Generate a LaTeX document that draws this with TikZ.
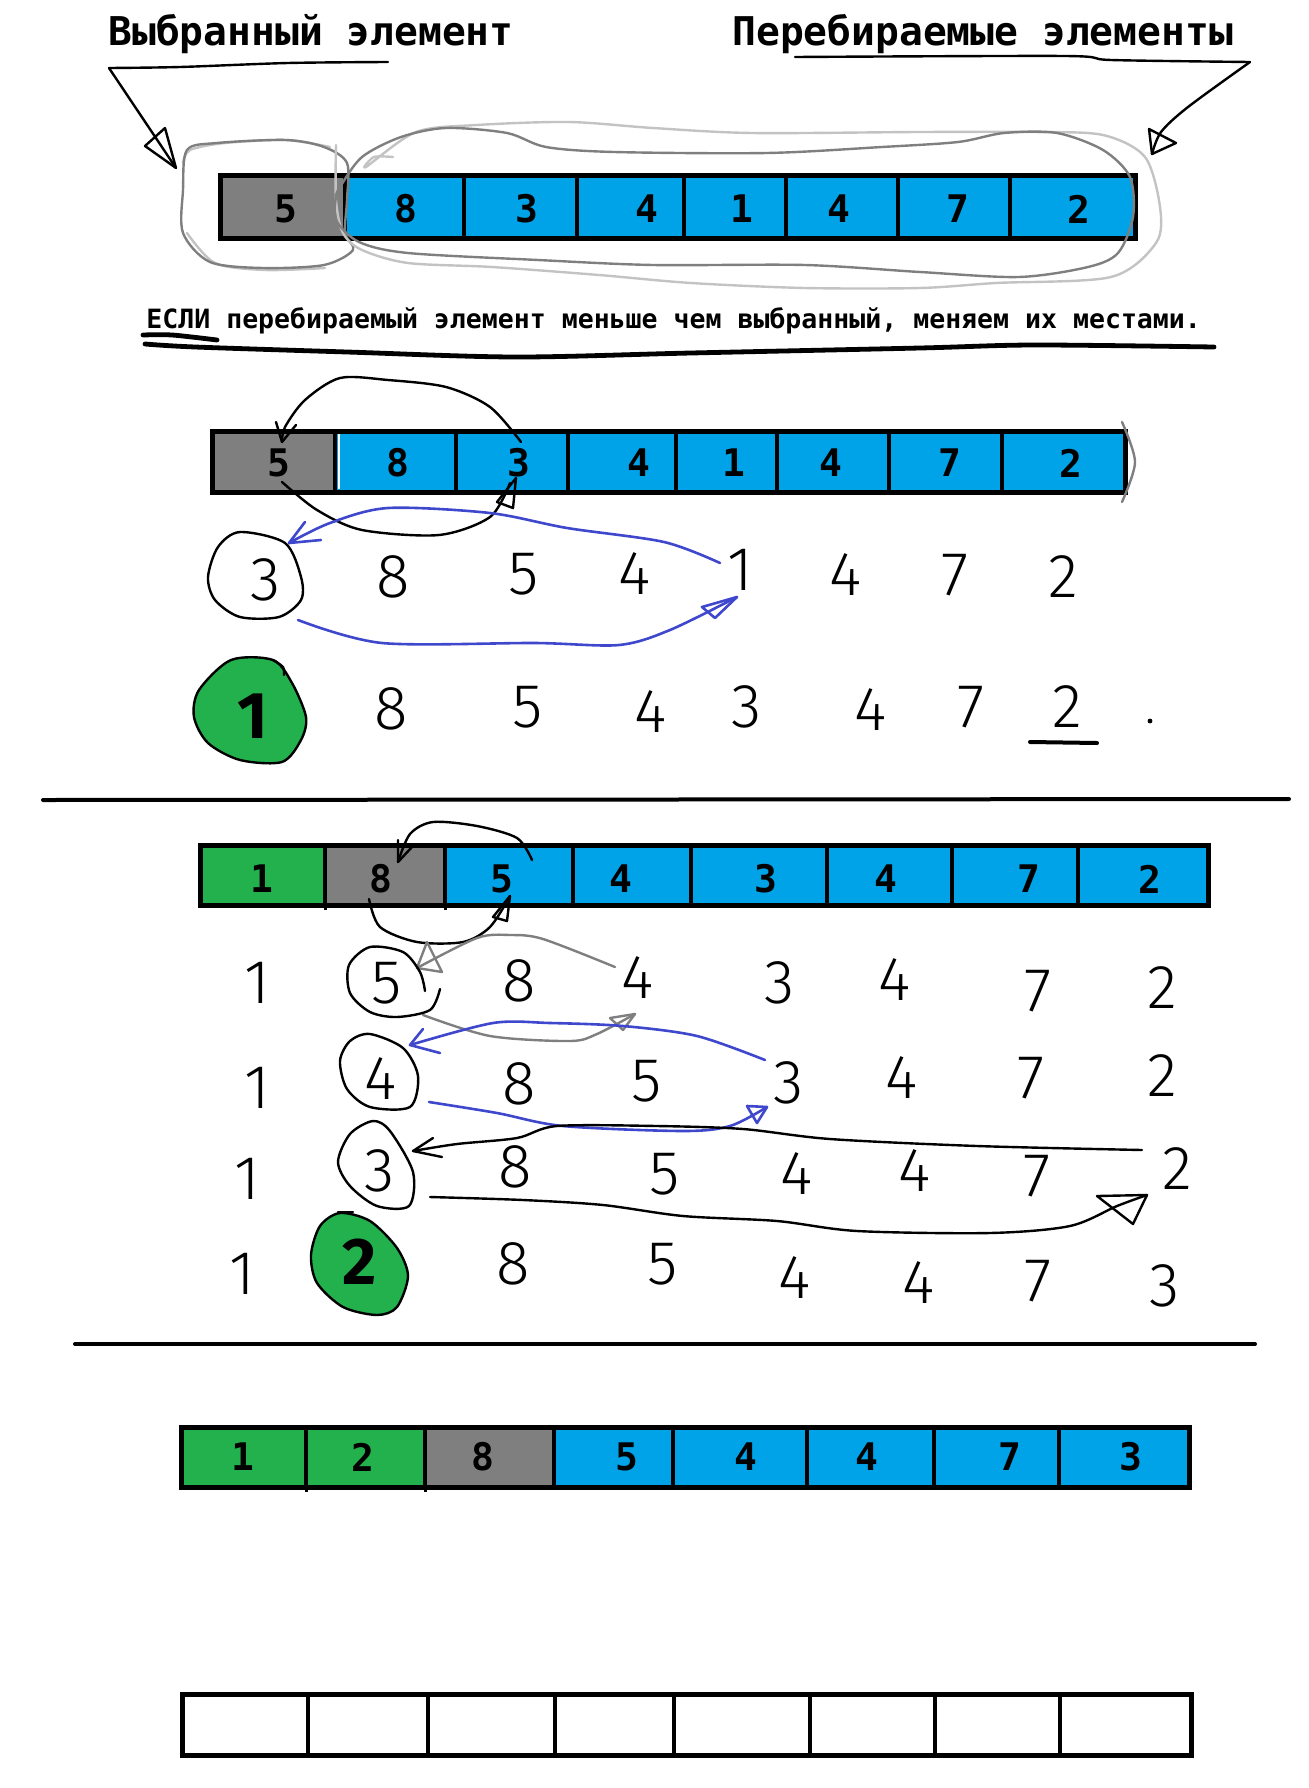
\documentclass[tikz,border=0pt]{standalone}
\usepackage{fontspec}
\setmainfont{DejaVu Sans Mono}
\newfontfamily\handfont{Fira Sans Light}
\newfontfamily\blobfont{Fira Sans}
\definecolor{cellgrey}{HTML}{7F7F7F}
\definecolor{cellblue}{HTML}{00A2E8}
\definecolor{cellgreen}{HTML}{22B14C}
\definecolor{penblue}{HTML}{3F48CC}
\definecolor{pale}{HTML}{C3C3C3}
\tikzset{
greycell/.style={draw,line width=2pt,fill=cellgrey},
bluecell/.style={draw,line width=2pt,fill=cellblue},
greencell/.style={draw,line width=2pt,fill=cellgreen},
blankcell/.style={draw,line width=2pt,fill=white},
rowframe/.style={draw,line width=2.5pt},
cellnum/.style={inner sep=0pt,font=\bfseries\fontsize{19}{19}\selectfont},
handnum/.style={inner sep=0pt,font=\handfont\fontsize{31}{31}\selectfont},
blobnum/.style={inner sep=0pt,font=\blobfont\bfseries\fontsize{33}{33}\selectfont},
pen/.style={line width=1.2pt,line join=round,line cap=round},
bluepen/.style={pen,color=penblue,line width=1.3pt},
greypen/.style={pen,color=cellgrey},
palepen/.style={pen,color=pale},
}
\begin{document}
\begin{tikzpicture}[x=.5pt,y=-.5pt]
\useasboundingbox (0,0) rectangle (1308,1788);
\node[anchor=west,inner sep=0pt,font=\bfseries\fontsize{19.8}{19.8}\selectfont] (chosen) at (108,34) {Выбранный элемент};
\node[anchor=west,inner sep=0pt,font=\bfseries\fontsize{19.8}{19.8}\selectfont] (others) at (732,34) {Перебираемые элементы};
\node[anchor=west,inner sep=0pt,font=\bfseries\fontsize{13.27}{13.27}\selectfont] (rule) at (146,321) {ЕСЛИ перебираемый элемент меньше чем выбранный, меняем их местами.};
\draw[greycell] (220,175) rectangle (345,238);
\draw[bluecell] (345,175) rectangle (464,238);
\draw[bluecell] (464,175) rectangle (577,238);
\draw[bluecell] (577,175) rectangle (684,238);
\draw[bluecell] (684,175) rectangle (786,238);
\draw[bluecell] (786,175) rectangle (898,238);
\draw[bluecell] (898,175) rectangle (1010,238);
\draw[bluecell] (1010,175) rectangle (1135,238);
\draw[rowframe] (220,175) rectangle (1135,238);
\node[cellnum] (a1) at (286,209) {5};
\node[cellnum] (a2) at (406,209) {8};
\node[cellnum] (a3) at (527,209) {3};
\node[cellnum] (a4) at (647,209) {4};
\node[cellnum] (a5) at (742,209) {1};
\node[cellnum] (a6) at (839,209) {4};
\node[cellnum] (a7) at (958,209) {7};
\node[cellnum] (a8) at (1079,209) {2};
\draw[pen] plot[smooth] coordinates {(388,62) (288,63) (180,67) (109,68)};
\draw[pen] (109,68) -- (176,168);
\draw[pen] (176,168) -- (165,128) -- (145,146) -- cycle;
\draw[pen] plot[smooth] coordinates {(795,57) (1065,56) (1111,60) (1250,62)};
\draw[pen] plot[smooth] coordinates {(1250,62) (1188,107) (1161,132) (1152,154)};
\draw[pen] (1152,154) -- (1149,129) -- (1176,143) -- cycle;
\draw[palepen] plot[smooth] coordinates {(183,163) (190,150) (225,143) (286,140) (330,147)};
\draw[palepen] plot[smooth] coordinates {(187,233) (215,263) (265,270) (325,268)};
\draw[greypen] plot[smooth cycle] coordinates {(187,150) (217,143) (286,140) (324,147) (347,163) (347,200) (345,233) (353,250) (324,265) (263,268) (210,262) (183,233) (183,190)};
\draw[palepen] plot[smooth] coordinates {(393,157) (374,157) (366,167) (416,132) (477,125) (569,122) (653,128) (752,133) (920,132) (1034,132) (1103,135) (1145,157) (1160,207) (1156,243) (1111,277) (996,283) (920,288) (805,288) (691,283) (599,275) (492,267) (408,263) (362,250) (343,233) (336,200) (336,145)};
\draw[greypen] plot[smooth cycle] coordinates {(340,187) (362,157) (401,137) (446,128) (507,133) (546,147) (614,152) (767,153) (882,147) (958,142) (1004,133) (1057,133) (1103,150) (1130,177) (1133,217) (1118,253) (1088,267) (1019,277) (920,272) (805,265) (653,265) (538,260) (408,253) (359,242) (336,220) (336,197)};
\draw[pen,line width=2.4pt] plot[smooth] coordinates {(143,335) (172,335) (217,340)};
\draw[pen,line width=2.4pt] plot[smooth] coordinates {(145,344) (195,347) (347,352) (515,357) (691,353) (920,348) (1034,345) (1214,347)};
\draw[greycell] (212,431) rectangle (335,492);
\draw[bluecell] (335,431) rectangle (456,492);
\draw[bluecell] (456,431) rectangle (568,492);
\draw[bluecell] (568,431) rectangle (676,492);
\draw[bluecell] (676,431) rectangle (777,492);
\draw[bluecell] (777,431) rectangle (889,492);
\draw[bluecell] (889,431) rectangle (1002,492);
\draw[bluecell] (1002,431) rectangle (1125,492);
\draw[rowframe] (212,431) rectangle (1125,492);
\draw[white,line width=1pt] (339,434) -- (339,489);
\node[cellnum] (b1) at (279,463) {5};
\node[cellnum] (b2) at (398,463) {8};
\node[cellnum] (b3) at (519,463) {3};
\node[cellnum] (b4) at (639,463) {4};
\node[cellnum] (b5) at (734,463) {1};
\node[cellnum] (b6) at (831,463) {4};
\node[cellnum] (b7) at (950,463) {7};
\node[cellnum] (b8) at (1071,463) {2};
\draw[greypen] plot[smooth] coordinates {(1122,422) (1135,462) (1122,502)};
\draw[pen] plot[smooth] coordinates {(521,442) (490,407) (446,387) (388,380) (340,378) (305,400) (285,427) (282,442)};
\draw[pen] (282,442) -- (276,422) (282,442) -- (296,425);
\draw[pen] plot[smooth] coordinates {(282,482) (317,510) (362,530) (439,535) (490,517) (510,483)};
\draw[pen] (516,478) -- (497,502) -- (513,508) -- cycle;
\draw[bluepen] plot[smooth] coordinates {(720,563) (664,542) (567,528) (490,513) (388,508) (330,523) (289,543)};
\draw[bluepen] (305,522) -- (289,543) -- (321,540);
\draw[bluepen] plot[smooth] coordinates {(298,620) (382,643) (535,643) (619,645) (670,630) (737,597)};
\draw[bluepen] (737,597) -- (702,607) -- (715,618) -- cycle;
\draw[pen] plot[smooth cycle] coordinates {(240,532) (285,543) (301,577) (301,600) (279,617) (240,617) (215,600) (208,577) (218,547)};
\node[handnum] (c1) at (266,580) {3};
\node[handnum] (c2) at (393,577) {8};
\node[handnum] (c3) at (524,574) {5};
\node[handnum] (c4) at (635,574) {4};
\node[handnum] (c5) at (740,570) {1};
\node[handnum] (c6) at (846,575) {4};
\node[handnum] (c7) at (955,575) {7};
\node[handnum] (c8) at (1063,577) {2};
\draw[pen,fill=cellgreen] plot[smooth cycle] coordinates {(231,660) (273,660) (292,683) (306,717) (301,740) (282,762) (240,760) (208,743) (194,717) (199,690)};
\draw[pen] plot[smooth] coordinates {(273,660) (283,667) (284,675)};
\node[blobnum] (d1) at (253,716) {1};
\node[handnum] (d2) at (391,709) {8};
\node[handnum] (d3) at (528,707) {5};
\node[handnum] (d4) at (651,712) {4};
\node[handnum] (d5) at (747,707) {3};
\node[handnum] (d6) at (871,710) {4};
\node[handnum] (d7) at (971,707) {7};
\node[handnum] (d8) at (1067,707) {2};
\draw[pen,line width=2pt] (1030,742) -- (1097,743);
\draw[fill] (1150,721) circle[radius=2];
\draw[pen,line width=2pt] (43,800) -- (1289,799);
\draw[greencell] (200,845) rectangle (325,905);
\draw[greycell] (325,845) rectangle (445,905);
\draw[bluecell] (445,845) rectangle (573,905);
\draw[bluecell] (573,845) rectangle (691,905);
\draw[bluecell] (691,845) rectangle (827,905);
\draw[bluecell] (827,845) rectangle (952,905);
\draw[bluecell] (952,845) rectangle (1078,905);
\draw[bluecell] (1078,845) rectangle (1208,905);
\draw[rowframe] (200,845) rectangle (1208,905);
\draw[line width=1.5pt] (325,905) -- (325,910);
\draw[line width=1.5pt] (445,905) -- (445,910);
\node[cellnum] (e1) at (262,879) {1};
\node[cellnum] (e2) at (381,879) {8};
\node[cellnum] (e3) at (502,879) {5};
\node[cellnum] (e4) at (621,879) {4};
\node[cellnum] (e5) at (766,879) {3};
\node[cellnum] (e6) at (886,879) {4};
\node[cellnum] (e7) at (1029,879) {7};
\node[cellnum] (e8) at (1150,879) {2};
\draw[pen] plot[smooth] coordinates {(532,860) (517,838) (477,826) (433,822) (410,834) (398,862)};
\draw[pen] (398,862) -- (398,840) (398,862) -- (412,847);
\draw[pen] plot[smooth] coordinates {(369,899) (380,927) (417,942) (463,942) (490,927) (510,896)};
\draw[pen] (510,896) -- (493,917) -- (507,921) -- cycle;
\draw[greypen] plot[smooth] coordinates {(615,967) (543,939) (510,935) (477,938) (417,968)};
\draw[greypen] (417,968) -- (427,942) -- (442,972) -- cycle;
\draw[greypen] plot[smooth] coordinates {(423,1015) (490,1036) (570,1041) (597,1034) (635,1014)};
\draw[greypen] (635,1014) -- (610,1018) -- (623,1030) -- cycle;
\draw[bluepen] plot[smooth] coordinates {(765,1060) (697,1036) (623,1026) (550,1023) (493,1023) (410,1045)};
\draw[bluepen] (423,1029) -- (410,1045) -- (440,1053);
\draw[bluepen] plot[smooth] coordinates {(429,1102) (497,1113) (563,1126) (683,1131) (730,1126) (767,1107)};
\draw[bluepen] (767,1107) -- (747,1106) -- (757,1123) -- cycle;
\draw[pen] plot[smooth] coordinates {(425,991) (420,972) (403,952) (370,947) (349,965) (350,993) (370,1012) (397,1017) (430,1010) (440,989)};
\node[handnum] (f1) at (257,983) {1};
\node[handnum] (f2) at (387,983) {5};
\node[handnum] (f3) at (519,981) {8};
\node[handnum] (f4) at (638,978) {4};
\node[handnum] (f5) at (780,983) {3};
\node[handnum] (f6) at (895,980) {4};
\node[handnum] (f7) at (1038,991) {7};
\node[handnum] (f8) at (1162,988) {2};
\draw[pen] plot[smooth cycle] coordinates {(370,1034) (403,1048) (418,1076) (410,1107) (370,1107) (347,1089) (340,1061) (350,1041)};
\node[handnum] (g1) at (257,1088) {1};
\node[handnum] (g2) at (381,1079) {4};
\node[handnum] (g3) at (519,1084) {8};
\node[handnum] (g4) at (647,1081) {5};
\node[handnum] (g5) at (789,1083) {3};
\node[handnum] (g6) at (902,1078) {4};
\node[handnum] (g7) at (1031,1078) {7};
\node[handnum] (g8) at (1162,1076) {2};
\draw[pen] plot[smooth] coordinates {(1142,1150) (977,1146) (830,1139) (743,1129) (657,1126) (557,1126) (517,1138) (457,1144) (413,1151)};
\draw[pen] (433,1138) -- (413,1151) -- (442,1157);
\draw[pen] plot[smooth] coordinates {(430,1197) (523,1200) (603,1205) (683,1216) (777,1221) (857,1231) (990,1233) (1070,1226) (1117,1206) (1147,1195)};
\draw[pen] (1147,1195) -- (1097,1196) -- (1133,1224) -- cycle;
\draw[pen] plot[smooth cycle] coordinates {(373,1121) (390,1131) (413,1172) (409,1206) (377,1206) (350,1186) (338,1162) (350,1134)};
\node[handnum] (h1) at (247,1179) {1};
\node[handnum] (h2) at (380,1171) {3};
\node[handnum] (h3) at (515,1167) {8};
\node[handnum] (h4) at (665,1174) {5};
\node[handnum] (h5) at (797,1174) {4};
\node[handnum] (h6) at (915,1171) {4};
\node[handnum] (h7) at (1037,1176) {7};
\node[handnum] (h8) at (1177,1169) {2};
\draw[pen,fill=cellgreen] plot[smooth cycle] coordinates {(340,1213) (370,1221) (397,1248) (408,1276) (397,1307) (377,1315) (343,1307) (317,1283) (311,1255) (320,1226)};
\draw[pen] (338,1212) -- (353,1212);
\node[handnum] (i1) at (242,1274) {1};
\node[blobnum] (i2) at (360,1262) {2};
\node[handnum] (i3) at (513,1264) {8};
\node[handnum] (i4) at (663,1264) {5};
\node[handnum] (i5) at (795,1278) {4};
\node[handnum] (i6) at (919,1283) {4};
\node[handnum] (i7) at (1038,1281) {7};
\node[handnum] (i8) at (1165,1286) {3};
\draw[pen,line width=2pt] (75,1344) -- (1255,1344);
\draw[greencell] (181,1427) rectangle (306,1487);
\draw[greencell] (306,1427) rectangle (425,1487);
\draw[greycell] (425,1427) rectangle (554,1487);
\draw[bluecell] (554,1427) rectangle (673,1487);
\draw[bluecell] (673,1427) rectangle (807,1487);
\draw[bluecell] (807,1427) rectangle (934,1487);
\draw[bluecell] (934,1427) rectangle (1059,1487);
\draw[bluecell] (1059,1427) rectangle (1189,1487);
\draw[rowframe] (181,1427) rectangle (1189,1487);
\draw[line width=1.5pt] (306,1487) -- (306,1492);
\draw[line width=1.5pt] (425,1487) -- (425,1492);
\node[cellnum] (j1) at (243,1457) {1};
\node[cellnum] (j2) at (363,1457) {2};
\node[cellnum] (j3) at (483,1457) {8};
\node[cellnum] (j4) at (627,1457) {5};
\node[cellnum] (j5) at (746,1457) {4};
\node[cellnum] (j6) at (867,1457) {4};
\node[cellnum] (j7) at (1010,1457) {7};
\node[cellnum] (j8) at (1131,1457) {3};
\draw[blankcell] (182,1694) rectangle (308,1755);
\draw[blankcell] (308,1694) rectangle (428,1755);
\draw[blankcell] (428,1694) rectangle (555,1755);
\draw[blankcell] (555,1694) rectangle (674,1755);
\draw[blankcell] (674,1694) rectangle (810,1755);
\draw[blankcell] (810,1694) rectangle (935,1755);
\draw[blankcell] (935,1694) rectangle (1060,1755);
\draw[blankcell] (1060,1694) rectangle (1191,1755);
\draw[rowframe] (182,1694) rectangle (1191,1755);
\end{tikzpicture}
\end{document}
